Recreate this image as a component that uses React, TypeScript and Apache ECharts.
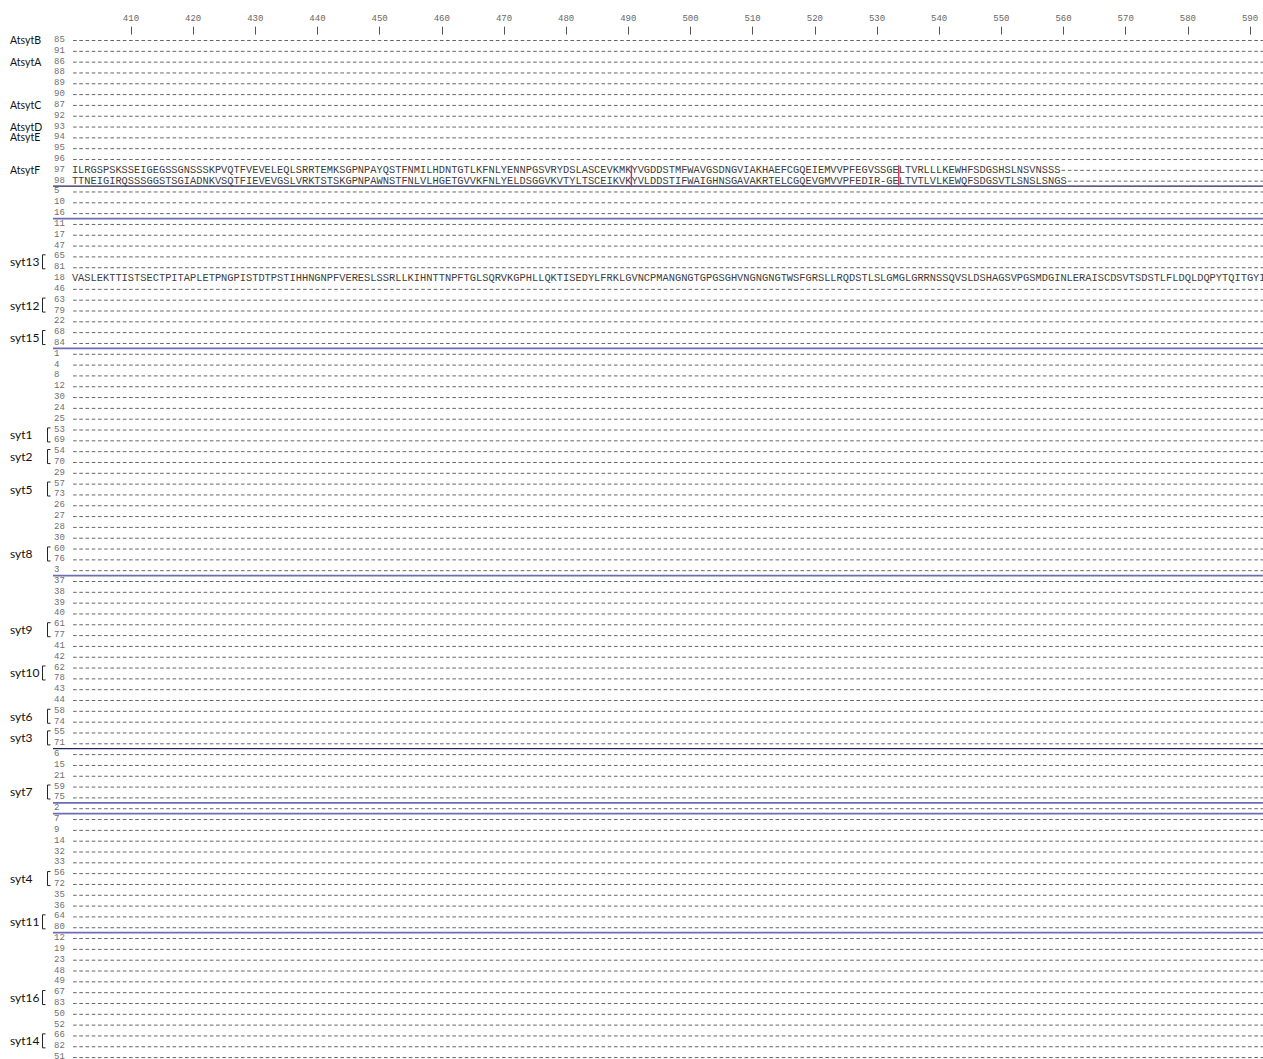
import React, { useEffect, useRef } from "react";
import * as echarts from "echarts";

// ---------- data ----------
const firstColumn = 401;
const tickColumns = [410, 420, 430, 440, 450, 460, 470, 480, 490, 500, 510, 520, 530, 540, 550, 560, 570, 580, 590];

const rowNumbers = [
  85, 91, 86, 88, 89, 90, 87, 92, 93, 94, 95, 96, 97, 98, 5, 10, 16, 11, 17, 47,
  65, 81, 18, 46, 63, 79, 22, 68, 84, 1, 4, 8, 12, 30, 24, 25, 53, 69, 54, 70,
  29, 57, 73, 26, 27, 28, 30, 60, 76, 3, 37, 38, 39, 40, 61, 77, 41, 42, 62, 78,
  43, 44, 58, 74, 55, 71, 6, 15, 21, 59, 75, 2, 7, 9, 14, 32, 33, 56, 72, 35,
  36, 64, 80, 12, 19, 23, 48, 49, 67, 83, 50, 52, 66, 82, 51,
];

const sequenceRows = [97, 98, 18];
const sequenceTexts = [
  "ILRGSPSKSSEIGEGSSGNSSSKPVQTFVEVELEQLSRRTEMKSGPNPAYQSTFNMILHDNTGTLKFNLYENNPGSVRYDSLASCEVKMKYVGDDSTMFWAVGSDNGVIAKHAEFCGQEIEMVVPFEGVSSGELTVRLLLKEWHFSDGSHSLNSVNSSS",
  "TTNEIGIRQSSSGGSTSGIADNKVSQTFIEVEVGSLVRKTSTSKGPNPAWNSTFNLVLHGETGVVKFNLYELDSGGVKVTYLTSCEIKVKYVLDDSTIFWAIGHNSGAVAKRTELCGQEVGMVVPFEDIR-GELTVTLVLKEWQFSDGSVTLSNSLSNGS",
  "VASLEKTTISTSECTPITAPLETPNGPISTDTPSTIHHNGNPFVERESLSSRLLKIHNTTNPFTGLSQRVKGPHLLQKTISEDYLFRKLGVNCPMANGNGTGPGSGHVNGNGNGTWSFGRSLLRQDSTLSLGMGLGRRNSSQVSLDSHAGSVPGSMDGINLERAISCDSVTSDSTLFLDQLDQPYTQITGYI",
];

const groupNames = ["AtsytB", "AtsytA", "AtsytC", "AtsytD", "AtsytE", "AtsytF", "syt13", "syt12", "syt15", "syt1", "syt2", "syt5", "syt8", "syt9", "syt10", "syt6", "syt3", "syt7", "syt4", "syt11", "syt16", "syt14"];
const groupFirstRow = [0, 2, 6, 8, 9, 12, 20, 24, 27, 36, 38, 41, 47, 54, 58, 62, 64, 69, 77, 81, 88, 92];
const groupLastRow = [0, 2, 6, 8, 9, 12, 21, 25, 28, 37, 39, 42, 48, 55, 59, 63, 65, 70, 78, 82, 89, 93];

const separatorAfterRow = [13, 16, 28, 49, 65, 70, 71, 82];
const separatorStrong = [1, 0, 0, 0, 1, 0, 0, 0];

const markerColumns = [490.5, 533.5];
const markerFirstRow = [12, 12];
const markerLastRow = [13, 13];

// ---------- helpers ----------
const MONO = '"Liberation Mono", "DejaVu Sans Mono", monospace';
const SANS = 'Lato, "Noto Sans", sans-serif';

const seqByIndex: Record<number, string> = {};
sequenceRows.forEach((r, k) => {
  seqByIndex[rowNumbers.indexOf(r)] = sequenceTexts[k];
});

function renderRow(params: any, api: any) {
  const i = api.value(1);
  const seq = seqByIndex[i] || "";
  const cs = params.coordSys;
  const cy = api.coord([firstColumn, i])[1];
  const cw = api.size([1, 0])[0];
  const children: any[] = [];
  for (let k = 0; k < seq.length; k += 10) {
    const x0 = api.coord([firstColumn + k - 0.5, i])[0];
    children.push({
      type: "text",
      x: x0,
      y: cy,
      silent: true,
      style: {
        text: seq.slice(k, k + 10),
        fontFamily: MONO,
        fontSize: 10.36,
        fill: "#3c3c3c",
        align: "left",
        verticalAlign: "middle",
      },
    });
  }
  const gx = api.coord([firstColumn + seq.length - 0.5, i])[0] + 1.2;
  children.push({
    type: "line",
    silent: true,
    shape: { x1: gx, y1: cy + 0.5, x2: cs.x + cs.width + 10, y2: cy + 0.5 },
    style: { stroke: "#666666", lineWidth: 1, lineDash: [3.6, cw - 3.6] },
  });
  return { type: "group", children };
}

function renderSeparator(params: any, api: any) {
  const cs = params.coordSys;
  const idx = api.value(1);
  const strong = api.value(2) === 1;
  const band = api.size([0, 1])[1];
  const y = api.coord([firstColumn, idx])[1] + band / 2;
  return {
    type: "line",
    silent: true,
    shape: { x1: cs.x, y1: y, x2: cs.x + cs.width + 10, y2: y },
    style: strong
      ? { stroke: "#24245c", lineWidth: 1.2 }
      : { stroke: "#6d6db2", lineWidth: 1.8 },
  };
}

function renderMarker(params: any, api: any) {
  const c = api.value(0);
  const r0 = api.value(1);
  const r1 = api.value(2);
  const band = api.size([0, 1])[1];
  const p0 = api.coord([c, r0]);
  const p1 = api.coord([c, r1]);
  return {
    type: "line",
    silent: true,
    shape: { x1: p0[0], y1: p0[1] - band * 0.42, x2: p1[0], y2: p1[1] + band * 0.48 },
    style: { stroke: "#cc3355", lineWidth: 1.4 },
  };
}

function renderGroupLabel(params: any, api: any) {
  const k = params.dataIndex;
  const name = groupNames[k];
  const r0 = api.value(1);
  const r1 = api.value(2);
  const y0 = api.coord([firstColumn, r0])[1];
  const y1 = api.coord([firstColumn, r1])[1];
  const yc = (y0 + y1) / 2;
  const paired = r1 > r0;
  const children: any[] = [
    {
      type: "text",
      x: 10,
      y: yc,
      silent: true,
      style: {
        text: name,
        fontFamily: SANS,
        fontSize: paired ? 12 : 10.5,
        fill: "#111",
        align: "left",
        verticalAlign: "middle",
      },
    },
  ];
  if (paired) {
    const bx = name.length >= 5 ? 42.5 : 47.5;
    children.push({
      type: "polyline",
      silent: true,
      shape: { points: [[bx + 3, yc - 7], [bx, yc - 7], [bx, yc + 7], [bx + 3, yc + 7]] },
      style: { stroke: "#222", lineWidth: 1, fill: null },
    });
  }
  return { type: "group", children };
}

export default function App() {
  const ref = useRef<HTMLDivElement>(null);
  useEffect(() => {
    if (!ref.current) return;
    const chart = echarts.init(ref.current, null, { renderer: "svg" });
    const rowPitch = 10.82;
    const gridLeft = 53;
    const colW = 6.217;
    const col401Center = 75;
    const xMin = firstColumn + (gridLeft - col401Center) / colW;
    const xMax = firstColumn + (1263 - col401Center) / colW;
    chart.setOption({
      animation: false,
      backgroundColor: "#ffffff",
      grid: {
        left: gridLeft,
        top: 40 - rowPitch / 2,
        width: 1263 - gridLeft,
        height: rowPitch * rowNumbers.length,
        containLabel: false,
      },
      xAxis: {
        type: "value",
        position: "top",
        min: xMin,
        max: xMax,
        axisLine: { show: false },
        splitLine: { show: false },
        axisTick: {
          show: true,
          customValues: tickColumns,
          length: 8,
          lineStyle: { color: "#555", width: 1 },
        },
        axisLabel: {
          customValues: tickColumns,
          fontFamily: MONO,
          fontSize: 9,
          color: "#666",
          margin: 11,
        },
      },
      yAxis: {
        type: "category",
        inverse: true,
        data: rowNumbers.map(String),
        axisLine: { show: false },
        axisTick: { show: false },
        splitLine: { show: false },
        axisLabel: {
          inside: true,
          interval: 0,
          margin: 1,
          align: "left",
          fontFamily: MONO,
          fontSize: 9,
          color: "#707070",
          formatter: (_v: string, idx: number) => String(rowNumbers[idx]),
        },
      },
      series: [
        {
          type: "custom",
          name: "alignment",
          renderItem: renderRow,
          encode: { x: 0, y: 1 },
          data: rowNumbers.map((_n, i) => [firstColumn, i]),
          z: 2,
        },
        {
          type: "custom",
          name: "separators",
          renderItem: renderSeparator,
          encode: { x: 0, y: 1 },
          data: separatorAfterRow.map((r, k) => [firstColumn, r, separatorStrong[k]]),
          z: 3,
        },
        {
          type: "custom",
          name: "markers",
          renderItem: renderMarker,
          encode: { x: 0, y: 1 },
          data: markerColumns.map((c, k) => [c, markerFirstRow[k], markerLastRow[k]]),
          z: 4,
        },
        {
          type: "custom",
          name: "groups",
          renderItem: renderGroupLabel,
          encode: { x: 0, y: 1 },
          data: groupNames.map((_n, k) => [firstColumn, groupFirstRow[k], groupLastRow[k]]),
          z: 4,
        },
      ],
    });
    return () => chart.dispose();
  }, []);
  return (
    <div
      ref={ref}
      style={{ position: "fixed", left: 0, top: 0, width: 1263, height: 1080, background: "#fff" }}
    />
  );
}
